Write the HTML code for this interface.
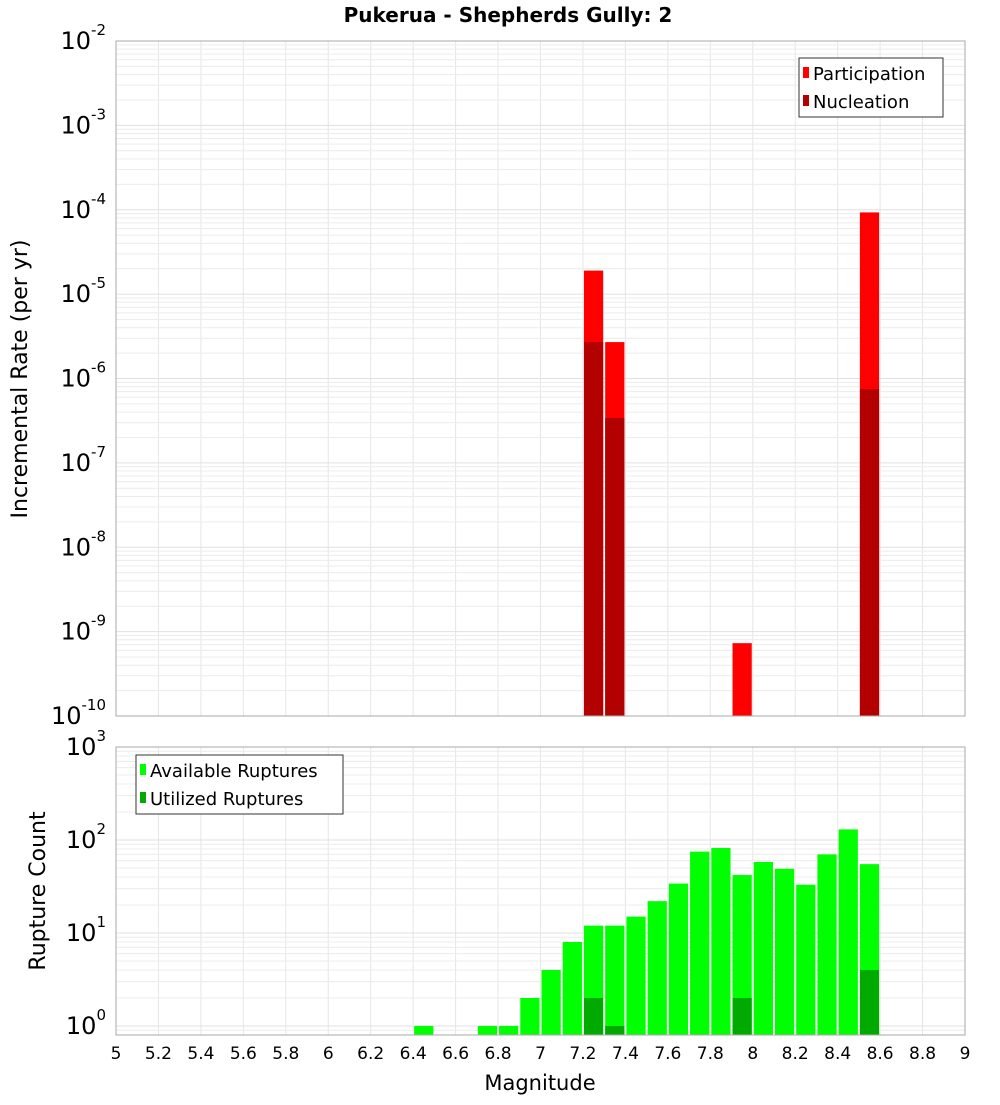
<!DOCTYPE html>
<html><head><meta charset="utf-8"><style>
body{margin:0;background:#fff;width:1000px;height:1100px;overflow:hidden}
svg{font-family:"DejaVu Sans","Liberation Sans",sans-serif}
</style></head><body>
<svg id="chart" width="1000" height="1100" viewBox="0 0 1000 1100" xmlns="http://www.w3.org/2000/svg">
<text x="508" y="22" text-anchor="middle" font-size="20" font-weight="bold">Pukerua - Shepherds Gully: 2</text>
<g id="top"></g><g id="bot"></g>
<text transform="translate(27,379) rotate(-90)" text-anchor="middle" font-size="22">Incremental Rate (per yr)</text>
<text transform="translate(45,891) rotate(-90)" text-anchor="middle" font-size="22">Rupture Count</text>
<text x="540" y="1090" text-anchor="middle" font-size="21">Magnitude</text>
<g>
<rect x="799" y="58" width="144" height="59" fill="#fff" stroke="#333"/>
<rect x="803" y="67" width="6" height="11" fill="#ff0000"/>
<text x="813" y="80" font-size="18">Participation</text>
<rect x="803" y="95" width="6" height="11" fill="#b30000"/>
<text x="813" y="108" font-size="18">Nucleation</text>
</g>
<g>
<rect x="136" y="755" width="207" height="59" fill="#fff" stroke="#333"/>
<rect x="140" y="764" width="6" height="11" fill="#00ff00"/>
<text x="150" y="777" font-size="18">Available Ruptures</text>
<rect x="140" y="792" width="6" height="11" fill="#00aa00"/>
<text x="150" y="805" font-size="18">Utilized Ruptures</text>
</g>
</svg>
<script>
const rateMags=[7.25,7.35,7.95,8.55];
const participation=[1.9e-5,2.7e-6,7.3e-10,9.3e-5];
const nucleation=[2.7e-6,3.4e-7,0,7.5e-7];
const countMags=[6.45,6.75,6.85,6.95,7.05,7.15,7.25,7.35,7.45,7.55,7.65,7.75,7.85,7.95,8.05,8.15,8.25,8.35,8.45,8.55];
const available=[1,1,1,2,4,8,12,12,15,22,34,75,82,42,58,49,33,70,130,55];
const utilizedMags=[7.25,7.35,7.95,8.55];
const utilized=[2,1,2,4];
const xTicks=[5,5.2,5.4,5.6,5.8,6,6.2,6.4,6.6,6.8,7,7.2,7.4,7.6,7.8,8,8.2,8.4,8.6,8.8,9];

const NS='http://www.w3.org/2000/svg';
const X0=116,X1=965;
const xs=m=>X0+(m-5)/4*(X1-X0);
const T={top:41,bot:716,lmin:-10,lmax:-2};
const B={top:747,bot:1035,lmin:-0.097,lmax:3};
const ys=(a,v)=>a.bot-(Math.log10(v)-a.lmin)/(a.lmax-a.lmin)*(a.bot-a.top);
function el(p,t,at){const e=document.createElementNS(NS,t);for(const k in at)e.setAttribute(k,at[k]);p.appendChild(e);return e;}
function grid(g,a){
  for(const t of xTicks){const l=el(g,'line',{x1:xs(t),x2:xs(t),y1:a.top,y2:a.bot,stroke:'#e6e6e6'});
  
  }
  for(let d=Math.floor(a.lmin);d<=a.lmax;d++)for(let k=1;k<10;k++){
    const v=k*Math.pow(10,d),lv=Math.log10(v);if(lv<a.lmin||lv>a.lmax)continue;
    const l=el(g,'line',{x1:X0,x2:X1,y1:ys(a,v),y2:ys(a,v),stroke:k==1?'#e0e0e0':'#ececec'});
    
    
  }
}
function ylabels(g,a,fs){
  for(let d=Math.ceil(a.lmin);d<=a.lmax;d++){
    const y=ys(a,Math.pow(10,d));
    const t=el(g,'text',{x:X0-10,y:y+8,'text-anchor':'end','font-size':fs});
    
    
    t.textContent='10';
    const s=el(t,'tspan',{dy:-14,'font-size':15});s.textContent=String(d);
  }
}
function bar(g,m,v,a,fill,name){
  const x=xs(m-0.05)+1,w=xs(m+0.05)-xs(m-0.05)-2,y=ys(a,v);
  const r=el(g,'rect',{x:x,y:y,width:w,height:a.bot-y,fill:fill});
  
  
}
const tg=document.getElementById('top'),bg=document.getElementById('bot');
grid(tg,T);grid(bg,B);
rateMags.forEach((m,i)=>{bar(tg,m,participation[i],T,'#ff0000','participation-bar');if(nucleation[i]>0)bar(tg,m,nucleation[i],T,'#b30000','nucleation-bar');});
countMags.forEach((m,i)=>bar(bg,m,available[i],B,'#00ff00','available-bar'));
utilizedMags.forEach((m,i)=>bar(bg,m,utilized[i],B,'#00aa00','utilized-bar'));
el(tg,'rect',{x:X0,y:T.top,width:X1-X0,height:T.bot-T.top,fill:'none',stroke:'#aaa'});
el(bg,'rect',{x:X0,y:B.top,width:X1-X0,height:B.bot-B.top,fill:'none',stroke:'#aaa'});
ylabels(tg,T,24);ylabels(bg,B,24);
for(const t of xTicks){const tx=el(bg,'text',{x:xs(t),y:1059,'text-anchor':'middle','font-size':17});


tx.textContent=String(t);}
</script>
</body></html>
